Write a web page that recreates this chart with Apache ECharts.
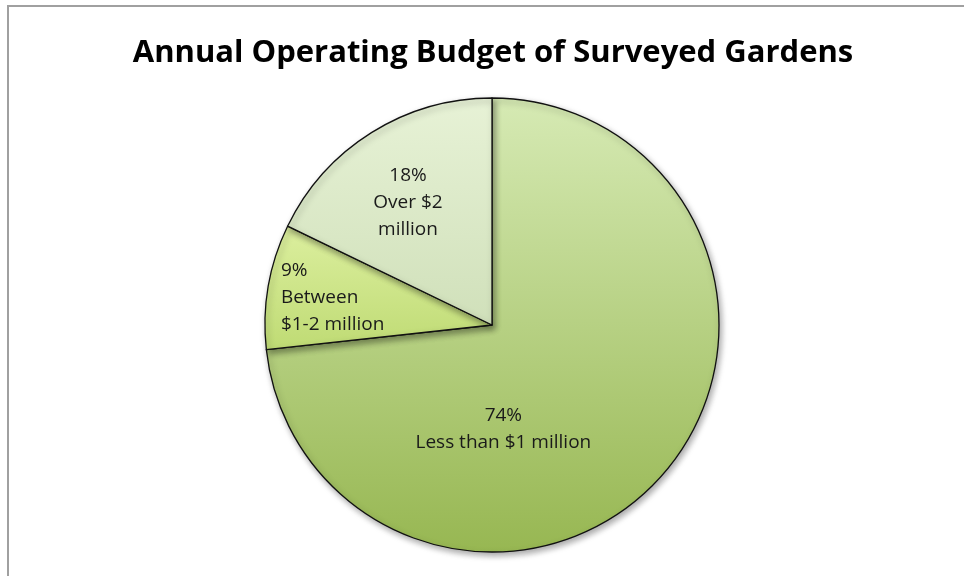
<!DOCTYPE html>
<html>
<head>
<meta charset="utf-8">
<title>Annual Operating Budget of Surveyed Gardens</title>
<script src="https://cdn.jsdelivr.net/npm/echarts@6/dist/echarts.min.js"></script>
<style>
  html, body { margin: 0; padding: 0; background: #ffffff; }
  #frame {
    position: absolute; left: 7px; top: 5px; width: 970px; height: 590px;
    border-top: 2px solid #a0a0a0; border-left: 2px solid #a0a0a0;
  }
  #chart { position: absolute; left: 0; top: 0; width: 964px; height: 576px; }
</style>
</head>
<body>
<div id="frame"></div>
<div id="chart"></div>
<script>
// Budget bands and their shares (percent)
const categories = ['Less than $1 million', 'Between\n$1-2 million', 'Over $2\nmillion'];
const shares = [74, 9, 18];

// Fill gradients per band: [top colour, bottom colour]
const fills = [
  ['#d6eab4', '#97b752'],
  ['#dcef9f', '#bfdb74'],
  ['#e7f2d6', '#d0e0ba']
];
// Text alignment of each label
const labelAlign = ['center', 'left', 'center'];

const chart = echarts.init(document.getElementById('chart'), null, { renderer: 'canvas' });

const data = categories.map((name, i) => ({
  name: name,
  value: shares[i],
  itemStyle: {
    color: {
      type: 'linear', x: 0, y: 0, x2: 0, y2: 1,
      colorStops: [
        { offset: 0, color: fills[i][0] },
        { offset: 1, color: fills[i][1] }
      ]
    }
  },
  label: { align: labelAlign[i] }
}));

// Label anchor points relative to the pie centre, in units of the radius
const labelAnchors = [
  [0.05, 0.46],
  [-0.93, -0.12],
  [-0.37, -0.54]
];

chart.setOption({
  animation: false,
  title: {
    text: 'Annual Operating Budget of Surveyed Gardens',
    left: 488,
    textAlign: 'center',
    top: 33,
    textStyle: {
      fontFamily: 'Open Sans',
      fontWeight: 'bold',
      fontSize: 31,
      color: '#000000'
    }
  },
  series: [{
    type: 'pie',
    center: [492, 325],
    radius: 227,
    startAngle: 90,
    clockwise: true,
    avoidLabelOverlap: false,
    itemStyle: {
      borderColor: '#111111',
      borderWidth: 1.3,
      shadowBlur: 6,
      shadowOffsetX: 2,
      shadowOffsetY: 3,
      shadowColor: 'rgba(0,0,0,0.35)'
    },
    label: {
      show: true,
      position: 'inside',
      formatter: p => p.value + '%\n' + p.name,
      fontFamily: 'Open Sans',
      fontSize: 19,
      lineHeight: 27,
      color: '#1a1a1a'
    },
    labelLine: { show: false },
    labelLayout: function (params) {
      const a = labelAnchors[params.dataIndex];
      return {
        x: 492 + a[0] * 227,
        y: 325 + a[1] * 227,
        align: labelAlign[params.dataIndex],
        verticalAlign: 'middle'
      };
    },
    emphasis: { disabled: true },
    data: data
  }]
});
</script>
</body>
</html>
